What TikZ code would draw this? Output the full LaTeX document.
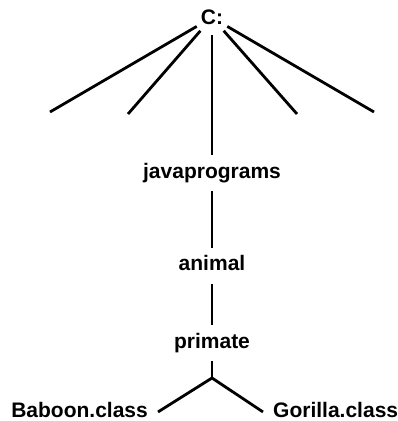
\documentclass[tikz,border=0pt]{standalone}
\usepackage{fontspec}
\setmainfont{Liberation Sans}
\usetikzlibrary{positioning}

\begin{document}
\begin{tikzpicture}[
  x=1pt, y=-1pt,
  every node/.style={font=\fontsize{21}{25}\selectfont\bfseries},
  dirnode/.style={
    inner xsep=10pt,
    inner ysep=8pt,
    text height=15pt,
    text depth=4.5pt
  },
  branch/.style={line width=2.8pt}
]
\useasboundingbox (0,0) rectangle (398,421);

% Root drive
\node[circle, inner sep=0pt, minimum size=35pt] (root) at (212,17.5) {C:};

% Folder chain
\node[dirnode, below=120pt of root] (javaprograms) {javaprograms};
\node[dirnode, below=56.5pt of javaprograms] (animal) {animal};
\node[dirnode, below=41.5pt of animal] (primate) {primate};

% Fork below primate
\coordinate (fork) at (212,378);

% Class files
\node[dirnode, below left=16pt and 54pt of fork] (baboon) {Baboon.class};
\node[dirnode, below right=16pt and 51pt of fork] (gorilla) {Gorilla.class};

% Other branches of C:
\coordinate (leafA) at (50,112);
\coordinate (leafB) at (128,114);
\coordinate (leafC) at (297,114);
\coordinate (leafD) at (374,112);

% Lines
\draw[branch] (root) -- (leafA);
\draw[branch] (root) -- (leafB);
\draw[branch] (root) -- (javaprograms);
\draw[branch] (root) -- (leafC);
\draw[branch] (root) -- (leafD);
\draw[branch] (javaprograms) -- (animal);
\draw[branch] (animal) -- (primate);
\draw[branch] (primate) -- (fork);
\draw[branch] (fork) -- (baboon.east);
\draw[branch] (fork) -- (gorilla.west);

\end{tikzpicture}
\end{document}
